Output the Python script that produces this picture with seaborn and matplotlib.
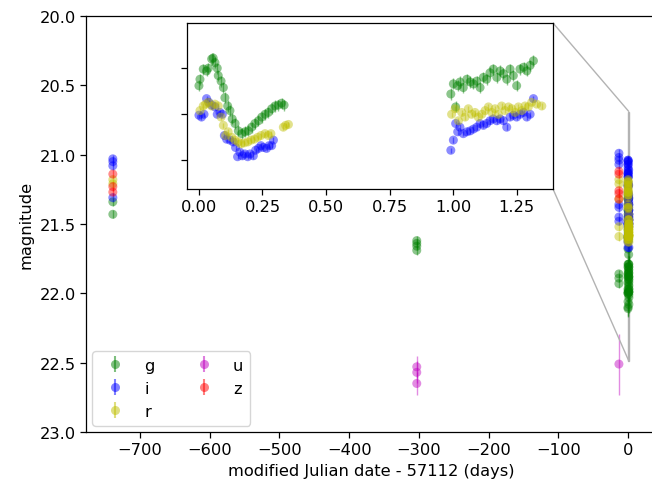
import numpy as np
import pandas as pd
import matplotlib
matplotlib.use("Agg")
import matplotlib.pyplot as plt
import seaborn as sns
from mpl_toolkits.axes_grid1.inset_locator import mark_inset

# ---- photometry (days relative to MJD 57112, AB magnitudes) ----
bands = ["g", "i", "r", "u", "z"]
band_colors = {"g": (0.0, 0.5, 0.0), "i": (0.0, 0.0, 1.0), "r": (0.75, 0.75, 0.0),
               "u": (0.75, 0.0, 0.75), "z": (1.0, 0.0, 0.0)}

# earlier epochs
g_early_day = [-739, -739, -303, -303, -303, -303, -13, -13, -13]
g_early_mag = [21.34, 21.43, 21.62, 21.64, 21.66, 21.69, 21.86, 21.89, 21.93]
i_early_day = [-739, -739, -739, -739, -13, -13, -13, -13, -13, -13, -13, -13]
i_early_mag = [21.03, 21.05, 21.08, 21.31, 20.99, 21.02, 21.04, 21.07, 21.36, 21.38, 21.45, 21.48]
r_early_day = [-739, -739, -13, -13, -13, -13, -13]
r_early_mag = [21.18, 21.21, 21.18, 21.21, 21.32, 21.52, 21.59]
u_early_day = [-303, -303, -303, -13]
u_early_mag = [22.53, 22.57, 22.65, 22.51]
u_early_err = [0.08, 0.08, 0.08, 0.22]
z_early_day = [-739, -739, -739, -13, -13, -13, -13, -13]
z_early_mag = [21.14, 21.23, 21.27, 21.12, 21.14, 21.26, 21.28, 21.32]

# two nights of dense monitoring
g_night_day = [0.000, 0.004, 0.017, 0.030, 0.037, 0.050, 0.056, 0.063, 0.072, 0.076,
               0.087, 0.096, 0.102, 0.113, 0.122, 0.131, 0.142, 0.155, 0.168, 0.181,
               0.194, 0.207, 0.220, 0.234, 0.247, 0.260, 0.273, 0.286, 0.299, 0.312,
               0.325, 0.335,
               0.991, 1.001, 1.010, 1.018, 1.027, 1.040, 1.054, 1.067, 1.080, 1.093,
               1.106, 1.119, 1.132, 1.145, 1.158, 1.172, 1.185, 1.198, 1.211, 1.224,
               1.237, 1.250, 1.263, 1.277, 1.290, 1.303, 1.316]
g_night_mag = [21.81, 21.88, 21.99, 21.97, 22.00, 22.10, 22.11, 22.06, 22.00, 21.92,
               21.86, 21.79, 21.68, 21.59, 21.54, 21.45, 21.40, 21.32, 21.29, 21.31,
               21.32, 21.36, 21.40, 21.43, 21.47, 21.50, 21.52, 21.56, 21.59, 21.60,
               21.62, 21.60,
               21.72, 21.83, 21.58, 21.81, 21.85, 21.79, 21.88, 21.85, 21.83, 21.86,
               21.79, 21.90, 21.88, 21.95, 21.99, 21.90, 21.97, 21.94, 21.88, 21.99,
               21.92, 21.81, 21.99, 22.01, 21.97, 22.03, 22.08]
i_night_day = [0.000, 0.010, 0.020, 0.030, 0.039, 0.050, 0.063, 0.072, 0.083, 0.092,
               0.100, 0.109, 0.122, 0.135, 0.144, 0.152, 0.161, 0.171, 0.181, 0.192,
               0.201, 0.214, 0.223, 0.234, 0.244, 0.253, 0.266, 0.276, 0.286, 0.293,
               0.991, 1.001, 1.010, 1.018, 1.027, 1.040, 1.054, 1.067, 1.080, 1.093,
               1.106, 1.119, 1.132, 1.145, 1.158, 1.172, 1.185, 1.198, 1.211, 1.224,
               1.237, 1.250, 1.263, 1.277, 1.290, 1.303, 1.316]
i_night_mag = [21.49, 21.47, 21.50, 21.67, 21.63, 21.60, 21.58, 21.50, 21.52, 21.50,
               21.27, 21.23, 21.22, 21.20, 21.14, 21.04, 21.09, 21.05, 21.07, 21.04,
               21.07, 21.05, 21.11, 21.13, 21.16, 21.14, 21.13, 21.16, 21.16, 21.22,
               21.11, 21.22, 21.40, 21.31, 21.36, 21.29, 21.31, 21.32, 21.34, 21.36,
               21.40, 21.38, 21.40, 21.43, 21.45, 21.43, 21.45, 21.43, 21.36, 21.47,
               21.49, 21.47, 21.50, 21.52, 21.47, 21.50, 21.67]
r_night_day = [0.004, 0.017, 0.026, 0.037, 0.050, 0.063, 0.076, 0.087, 0.096, 0.105,
               0.115, 0.129, 0.142, 0.155, 0.165, 0.178, 0.192, 0.205, 0.218, 0.231,
               0.244, 0.260, 0.273, 0.283, 0.332, 0.341, 0.352,
               0.994, 1.008, 1.021, 1.034, 1.047, 1.060, 1.073, 1.086, 1.099, 1.113,
               1.126, 1.139, 1.152, 1.165, 1.178, 1.191, 1.204, 1.218, 1.231, 1.244,
               1.257, 1.270, 1.283, 1.296, 1.309, 1.329, 1.349]
r_night_mag = [21.54, 21.59, 21.61, 21.63, 21.59, 21.61, 21.59, 21.47, 21.38, 21.27,
               21.31, 21.25, 21.22, 21.20, 21.18, 21.19, 21.20, 21.22, 21.23, 21.25,
               21.27, 21.29, 21.27, 21.29, 21.36, 21.38, 21.39,
               21.50, 21.56, 21.43, 21.52, 21.47, 21.56, 21.50, 21.52, 21.47, 21.50,
               21.54, 21.58, 21.52, 21.56, 21.50, 21.59, 21.54, 21.58, 21.56, 21.52,
               21.58, 21.54, 21.59, 21.58, 21.63, 21.61, 21.59]

# typical uncertainties per data set
err_early = 0.03
err_night = {"g": 0.06, "i": 0.03, "r": 0.03}

frames = []
for b, d, m in [("g", g_early_day, g_early_mag), ("i", i_early_day, i_early_mag),
                ("r", r_early_day, r_early_mag), ("z", z_early_day, z_early_mag)]:
    frames.append(pd.DataFrame({"band": b, "day": d, "mag": m, "err": err_early}))
frames.append(pd.DataFrame({"band": "u", "day": u_early_day, "mag": u_early_mag,
                            "err": u_early_err}))
for b, d, m in [("g", g_night_day, g_night_mag), ("i", i_night_day, i_night_mag),
                ("r", r_night_day, r_night_mag)]:
    frames.append(pd.DataFrame({"band": b, "day": d, "mag": m, "err": err_night[b]}))
phot = pd.concat(frames, ignore_index=True)

# ---- style ----
sns.set_theme(style="ticks")
plt.rcParams.update({
    "font.family": ["DejaVu Sans"],
    "font.size": 11.7,
    "axes.labelsize": 11.7,
    "xtick.labelsize": 11.7,
    "ytick.labelsize": 11.7,
    "legend.fontsize": 11.7,
    "text.color": "black",
    "axes.labelcolor": "black",
    "xtick.color": "black",
    "ytick.color": "black",
    "axes.edgecolor": "black",
    "axes.linewidth": 0.9,
    "xtick.major.size": 4,
    "ytick.major.size": 4,
    "xtick.major.width": 0.9,
    "ytick.major.width": 0.9,
})

fig = plt.figure(figsize=(6.52, 4.85), dpi=100)
ax = fig.add_axes([86 / 652, 52 / 485, 570 / 652, 416 / 485])
axins = fig.add_axes([187 / 652, 295 / 485, 366 / 652, 166 / 485])


def draw(axis, with_labels):
    for b in bands:
        sub = phot[phot["band"] == b]
        col = band_colors[b]
        axis.errorbar(sub["day"], sub["mag"], yerr=sub["err"], fmt="none",
                      ecolor=col, alpha=0.45, elinewidth=1.0, zorder=2)
        sns.scatterplot(data=sub, x="day", y="mag", color=col, alpha=0.45, s=42,
                        edgecolor="none", ax=axis, legend=False, zorder=3)
        if with_labels:
            axis.errorbar([], [], yerr=[], fmt="o", color=col, alpha=0.5,
                          ms=6.5, mec="none", label=b)


draw(ax, True)
ax.set_xlim(-777.5, 40.2)
ax.set_ylim(23.0, 20.0)
ax.set_yticks(np.arange(20.0, 23.01, 0.5))
ax.set_xticks(np.arange(-700, 1, 100))
ax.set_xlabel("modified Julian date - 57112 (days)")
ax.set_ylabel("magnitude")
ax.legend(loc="lower left", ncol=2, frameon=True, borderaxespad=0.4)

draw(axins, False)
axins.set_xlim(-0.047, 1.393)
axins.set_ylim(20.69, 22.49)
axins.set_yticks([21.0, 21.5, 22.0])
axins.set_yticklabels([])
axins.set_xticks([0.0, 0.25, 0.5, 0.75, 1.0, 1.25])
axins.set_xlabel("")
axins.set_ylabel("")

mark_inset(ax, axins, loc1=1, loc2=4, fc="none", ec="0.7", lw=1.0)

fig.savefig("out.png", dpi=100)
